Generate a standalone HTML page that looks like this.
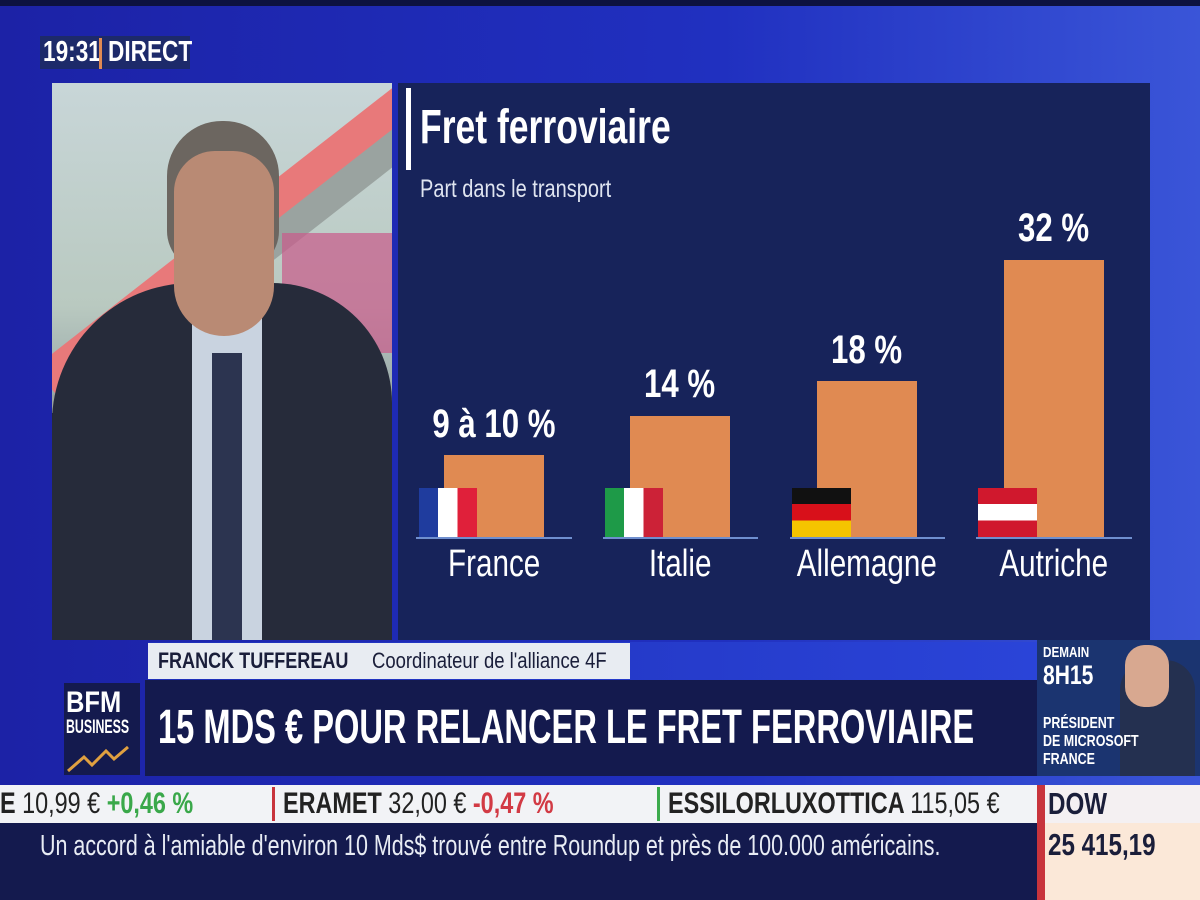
<!DOCTYPE html>
<html><head><meta charset="utf-8"><style>
*{margin:0;padding:0;box-sizing:border-box}
body{width:1200px;height:900px;overflow:hidden;position:relative;font-family:"Liberation Sans",sans-serif;background:linear-gradient(90deg,#1c22a6 0%,#2030c0 60%,#3a55d8 100%)}
.a{position:absolute}
.n{display:inline-block;transform:scaleX(.78);transform-origin:left center;white-space:nowrap}
.c{display:inline-block;transform:scaleX(.78);transform-origin:center center;white-space:nowrap}
.bar{position:absolute;background:#e08a52;width:100px}
.base{position:absolute;height:2px;background:#6f8fcf;top:537px}
.lab{position:absolute;width:200px;text-align:center;color:#fff;font-size:38px;top:543px}
.val{position:absolute;width:200px;text-align:center;color:#fff;font-size:40px;font-weight:bold}
.flag{position:absolute;top:488px;height:49px;width:58px}
</style></head><body>
<div class="a" style="left:0;top:0;width:1200px;height:6px;background:#0d1240"></div>
<div class="a" style="left:40px;top:36px;width:150px;height:33px;background:#1d2a6a"></div>
<div class="a" style="left:43px;top:36px;color:#fff;font-size:29px;font-weight:bold;line-height:33px"><span class="n">19:31</span></div>
<div class="a" style="left:99px;top:38px;width:3px;height:31px;background:#e08a52"></div>
<div class="a" style="left:108px;top:36px;color:#fff;font-size:29px;font-weight:bold;line-height:33px"><span class="n">DIRECT</span></div>
<!-- video -->
<div class="a" style="left:52px;top:83px;width:340px;height:557px;overflow:hidden;background:linear-gradient(180deg,#c8d6d8 0%,#b9c9c0 40%,#44506a 100%)">
 <div class="a" style="left:-60px;top:120px;width:520px;height:40px;background:#e8797a;transform:rotate(-38deg)"></div>
 <div class="a" style="left:-60px;top:160px;width:520px;height:30px;background:#9aa3a0;transform:rotate(-38deg)"></div>
 <div class="a" style="left:230px;top:150px;width:110px;height:120px;background:#c95a8a;opacity:.7"></div>
 <div class="a" style="left:0;top:330px;width:340px;height:227px;background:#1f2433"></div>
 <div class="a" style="left:0;top:200px;width:340px;height:357px;background:#262b3a;border-radius:140px 120px 0 0"></div>
 <div class="a" style="left:140px;top:220px;width:70px;height:340px;background:#c9d3e0"></div>
 <div class="a" style="left:160px;top:270px;width:30px;height:290px;background:#2c3450"></div>
 <div class="a" style="left:115px;top:38px;width:112px;height:150px;background:#6c6660;border-radius:55px 55px 40px 40px"></div>
 <div class="a" style="left:122px;top:68px;width:100px;height:185px;background:#b98a74;border-radius:45px 45px 55px 55px"></div>
</div>
<!-- chart panel -->
<div class="a" style="left:398px;top:83px;width:752px;height:557px;background:#17235a"></div>
<div class="a" style="left:406px;top:88px;width:5px;height:82px;background:#fff"></div>
<div class="a" style="left:420px;top:100px;color:#fff;font-size:48px;font-weight:bold;line-height:56px"><span class="n" style="transform:scaleX(.74)">Fret ferroviaire</span></div>
<div class="a" style="left:420px;top:174px;color:#dfe4f0;font-size:25px;line-height:30px"><span class="n" style="transform:scaleX(.8)">Part dans le transport</span></div>

<div class="base" style="left:416px;width:156px"></div>
<div class="base" style="left:603px;width:155px"></div>
<div class="base" style="left:790px;width:155px"></div>
<div class="base" style="left:976px;width:156px"></div>

<div class="bar" style="left:444px;top:455px;height:82px"></div>
<div class="bar" style="left:630px;top:416px;height:121px"></div>
<div class="bar" style="left:817px;top:381px;height:156px"></div>
<div class="bar" style="left:1004px;top:260px;height:277px"></div>

<div class="flag" style="left:419px;background:linear-gradient(90deg,#1f3c9e 0 33%,#fff 33% 66%,#e0203a 66%)"></div>
<div class="flag" style="left:605px;background:linear-gradient(90deg,#1e9a48 0 33%,#fff 33% 66%,#cc2237 66%)"></div>
<div class="flag" style="left:792px;width:59px;background:linear-gradient(180deg,#111 0 33%,#d8101a 33% 66%,#f5c400 66%)"></div>
<div class="flag" style="left:978px;width:59px;background:linear-gradient(180deg,#d0182d 0 33%,#fff 33% 66%,#d0182d 66%)"></div>

<div class="val" style="left:394px;top:402px"><span class="c">9 à 10 %</span></div>
<div class="val" style="left:580px;top:362px"><span class="c">14 %</span></div>
<div class="val" style="left:767px;top:328px"><span class="c">18 %</span></div>
<div class="val" style="left:954px;top:206px"><span class="c">32 %</span></div>

<div class="lab" style="left:394px"><span class="c">France</span></div>
<div class="lab" style="left:580px"><span class="c">Italie</span></div>
<div class="lab" style="left:767px"><span class="c">Allemagne</span></div>
<div class="lab" style="left:954px"><span class="c">Autriche</span></div>

<!-- lower third -->
<div class="a" style="left:148px;top:642px;width:890px;height:38px;background:linear-gradient(90deg,#1f2fb8,#2a44d8)"></div>
<div class="a" style="left:148px;top:643px;width:482px;height:36px;background:#e8ecf2"></div>
<div class="a" style="left:158px;top:643px;color:#1a1e3a;font-size:22px;font-weight:bold;line-height:36px"><span class="n" style="transform:scaleX(.82)">FRANCK TUFFEREAU</span></div>
<div class="a" style="left:372px;top:643px;color:#1a1e3a;font-size:22px;line-height:36px"><span class="n" style="transform:scaleX(.84)">Coordinateur de l'alliance 4F</span></div>
<div class="a" style="left:145px;top:680px;width:892px;height:96px;background:#141a4e"></div>
<div class="a" style="left:158px;top:700px;color:#fff;font-size:48px;font-weight:bold;line-height:56px"><span class="n" style="transform:scaleX(.68)">15 MDS € POUR RELANCER LE FRET FERROVIAIRE</span></div>
<div class="a" style="left:64px;top:683px;width:76px;height:92px;background:#141a4e"></div>
<div class="a" style="left:66px;top:688px;color:#fff;font-size:30px;font-weight:bold;line-height:30px"><span class="n" style="transform:scaleX(.85)">BFM</span></div>
<div class="a" style="left:66px;top:718px;color:#fff;font-size:19px;font-weight:bold;line-height:20px"><span class="n" style="transform:scaleX(.65)">BUSINESS</span></div>
<svg class="a" style="left:66px;top:745px" width="72" height="28"><polyline points="2,26 18,12 26,20 40,6 48,14 62,2" fill="none" stroke="#e0a040" stroke-width="3"/></svg>
<!-- promo -->
<div class="a" style="left:1037px;top:640px;width:163px;height:136px;background:#1b3470"></div>
<div class="a" style="left:1120px;top:660px;width:75px;height:116px;background:#243050;border-radius:30px 30px 0 0"></div>
<div class="a" style="left:1125px;top:645px;width:44px;height:62px;background:#d8a890;border-radius:20px"></div>
<div class="a" style="left:1043px;top:645px;color:#fff;font-size:15px;font-weight:bold;line-height:16px"><span class="n">DEMAIN</span></div>
<div class="a" style="left:1043px;top:660px;color:#fff;font-size:27px;font-weight:bold;line-height:30px"><span class="n">8H15</span></div>
<div class="a" style="left:1043px;top:715px;color:#fff;font-size:16px;font-weight:bold;line-height:18px"><span class="n">PRÉSIDENT<br>DE MICROSOFT<br>FRANCE</span></div>
<!-- ticker -->
<div class="a" style="left:0;top:785px;width:1040px;height:38px;background:#f2f3f6"></div>
<div class="a" style="left:272px;top:787px;width:3px;height:34px;background:#c8343c"></div>
<div class="a" style="left:657px;top:787px;width:3px;height:34px;background:#3caa4c"></div>
<div class="a" style="left:0;top:785px;font-size:30px;font-weight:bold;line-height:38px;color:#222"><span class="n">E <span style="font-weight:normal">10,99 €</span> <span style="color:#3aa84a">+0,46 %</span></span></div>
<div class="a" style="left:283px;top:785px;font-size:30px;font-weight:bold;line-height:38px;color:#222"><span class="n">ERAMET <span style="font-weight:normal">32,00 €</span> <span style="color:#d23a44">-0,47 %</span></span></div>
<div class="a" style="left:668px;top:785px;font-size:30px;font-weight:bold;line-height:38px;color:#222"><span class="n">ESSILORLUXOTTICA <span style="font-weight:normal">115,05 €</span></span></div>
<div class="a" style="left:0;top:823px;width:1040px;height:77px;background:#141a4e"></div>
<div class="a" style="left:40px;top:828px;color:#e8ecf4;font-size:29px;line-height:36px"><span class="n" style="transform:scaleX(.74)">Un accord à l'amiable d'environ 10 Mds$ trouvé entre Roundup et près de 100.000 américains.</span></div>
<div class="a" style="left:1037px;top:785px;width:163px;height:115px;background:#fbe8d8"></div>
<div class="a" style="left:1037px;top:785px;width:163px;height:38px;background:#f4f0f2"></div>
<div class="a" style="left:1037px;top:785px;width:8px;height:115px;background:#c8343c"></div>
<div class="a" style="left:1048px;top:785px;color:#1a1e3a;font-size:31px;font-weight:bold;line-height:38px"><span class="n">DOW</span></div>
<div class="a" style="left:1048px;top:826px;color:#1a1e3a;font-size:31px;font-weight:bold;line-height:38px"><span class="n">25 415,19</span></div>
</body></html>
